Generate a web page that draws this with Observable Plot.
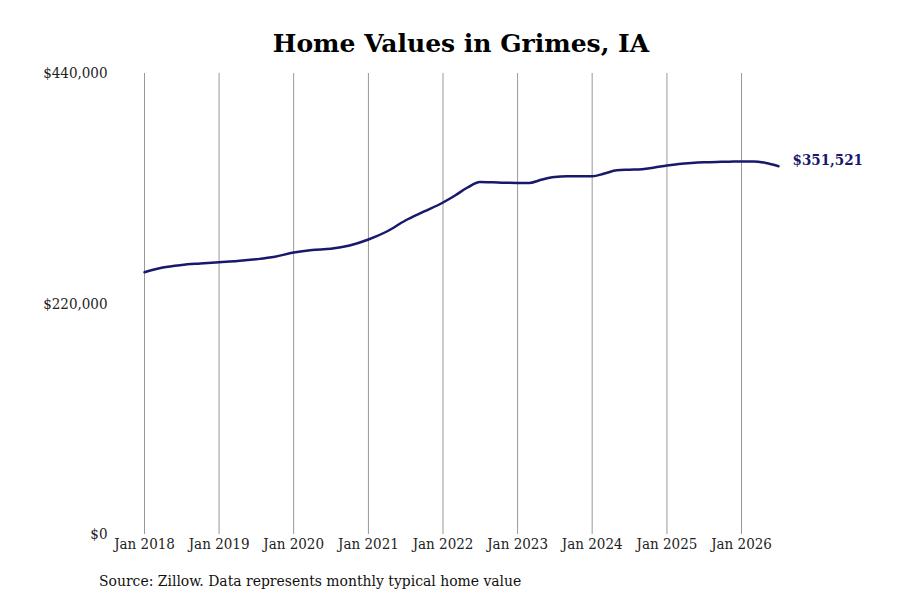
<!DOCTYPE html>
<html>
<head>
<meta charset="utf-8">
<script src="https://cdn.jsdelivr.net/npm/d3@7"></script>
<script src="https://cdn.jsdelivr.net/npm/@observablehq/plot@0.6"></script>
<style>
  html, body { margin: 0; padding: 0; background: #fff; }
  #wrap { position: relative; width: 900px; height: 600px; overflow: hidden; }
  #title { position: absolute; left: 144px; width: 634px; top: 29px; text-align: center;
           font-family: "DejaVu Serif", serif; font-weight: bold; font-size: 25px; color: #000; white-space: nowrap; }
  #caption { position: absolute; left: 99px; top: 572px; font-family: "DejaVu Serif Condensed", "DejaVu Serif", serif;
             font-stretch: condensed; font-size: 15.5px; color: #111; white-space: nowrap; }
  #chart { position: absolute; left: 0; top: 0; }
  #chart svg { font-family: "DejaVu Serif Condensed", "DejaVu Serif", serif; font-stretch: condensed; }
</style>
</head>
<body>
<div id="wrap">
  <div id="chart"></div>
  <div id="title">Home Values in Grimes, IA</div>
  <div id="caption">Source: Zillow. Data represents monthly typical home value</div>
</div>
<script>
const dates = ["2018-01","2018-04","2018-07","2018-10","2019-01","2019-04","2019-07","2019-10",
  "2020-01","2020-04","2020-07","2020-10","2021-01","2021-04","2021-07","2021-10",
  "2022-01","2022-03","2022-05","2022-07","2022-09","2022-11","2023-01","2023-03","2023-05",
  "2023-07","2023-09","2023-11","2024-01","2024-03","2024-05","2024-07","2024-09","2024-11",
  "2025-01","2025-03","2025-05","2025-07","2025-09","2025-11","2026-01","2026-03","2026-05","2026-07"];
const values = [250350,254840,257220,258650,259900,261040,262670,265050,
  269150,271540,272690,275840,281560,289200,299700,308290,
  316880,323560,331200,336440,336160,335680,335580,335580,338830,
  341220,341980,341980,341880,344560,347610,348180,348660,350280,
  352190,353620,354580,355240,355620,355810,356010,356010,354580,351521];
const yTicks = [0, 220000, 440000];
const xTickYears = ["2018","2019","2020","2021","2022","2023","2024","2025","2026"];

const parse = d3.utcParse("%Y-%m");
const data = dates.map((d, i) => ({date: parse(d), value: values[i]}));
const xTicks = xTickYears.map(y => parse(y + "-01"));
const last = data[data.length - 1];
const navy = "#18186c";

const chart = Plot.plot({
  width: 900,
  height: 600,
  marginTop: 73,
  marginBottom: 66,
  marginLeft: 144,
  marginRight: 122,
  style: {fontSize: "15px", color: "#222", background: "#fff"},
  x: {type: "utc", domain: [parse("2018-01"), parse("2026-07")]},
  y: {domain: [0, 440000]},
  marks: [
    Plot.ruleX(xTicks, {x: d => d, y1: 0, y2: 440000, stroke: "#999", strokeWidth: 1}),
    Plot.axisX({ticks: xTicks, tickSize: 0, tickPadding: 4, tickFormat: d3.utcFormat("Jan %Y"), label: null, fontSize: 15}),
    Plot.axisY({ticks: yTicks, tickSize: 0, tickPadding: 37, tickFormat: d => "$" + d3.format(",")(d), label: null, fontSize: 15}),
    Plot.line(data, {x: "date", y: "value", stroke: navy, strokeWidth: 2.5, curve: "monotone-x"}),
    Plot.text([last], {x: "date", y: "value", text: d => "$" + d3.format(",")(d.value), dx: 14, dy: -6,
      textAnchor: "start", fill: navy, fontWeight: "bold", fontSize: 15})
  ]
});
document.getElementById("chart").appendChild(chart);
</script>
</body>
</html>
